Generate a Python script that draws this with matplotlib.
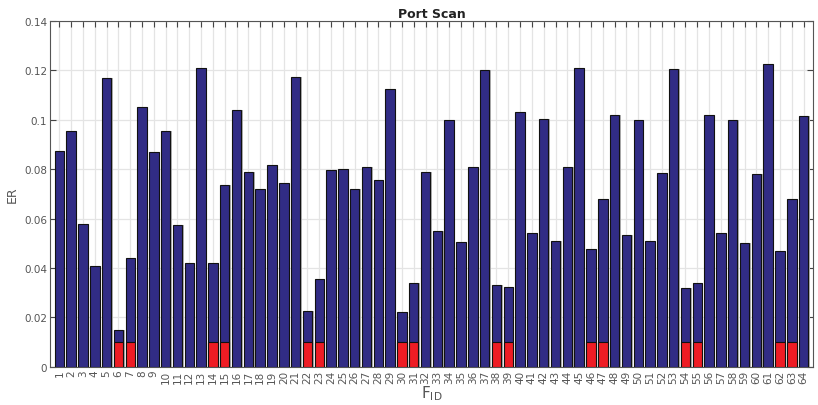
import numpy as np
import matplotlib
matplotlib.use('Agg')
import matplotlib.pyplot as plt

# Feature IDs and error rate per feature
FID = list(range(1, 65))
ER = [0.0875, 0.0955, 0.058, 0.041, 0.117, 0.015, 0.044, 0.105,
      0.087, 0.0955, 0.0575, 0.042, 0.121, 0.042, 0.0735, 0.104,
      0.079, 0.072, 0.0815, 0.0745, 0.1175, 0.0225, 0.0355, 0.0795,
      0.080, 0.072, 0.081, 0.0755, 0.1125, 0.022, 0.034, 0.079,
      0.055, 0.100, 0.0505, 0.081, 0.120, 0.033, 0.0325, 0.103,
      0.054, 0.1005, 0.051, 0.081, 0.121, 0.0475, 0.068, 0.102,
      0.0535, 0.100, 0.051, 0.0785, 0.1205, 0.032, 0.034, 0.102,
      0.054, 0.100, 0.050, 0.078, 0.1225, 0.047, 0.068, 0.1015]
# highlighted features (red marker segment)
SEL = [6, 7, 14, 15, 22, 23, 30, 31, 38, 39, 46, 47, 54, 55, 62, 63]
SEL_H = 0.01

BLUE = '#312c85'
RED = '#ee1c24'
GRAY = '#555555'

fig = plt.figure(figsize=(8.18, 4.06), dpi=100)
ax = fig.add_axes([0.061, 0.094, 0.933, 0.852])

x = np.array(FID)
er = np.array(ER)
w = 0.8
# light shadow on right side of each bar
ax.bar(x + 0.12, er, width=w, color='#b0b0b0', edgecolor='none', zorder=2)
ax.bar(x, er, width=w, color=BLUE, edgecolor='#111111', lw=0.8, zorder=3)
ax.bar(SEL, [SEL_H]*len(SEL), width=w, color=RED, edgecolor='#111111', lw=0.8, zorder=4)

ax.set_xlim(0.2, 64.8)
ax.set_ylim(0, 0.14)
ax.set_xticks(x)
ax.set_xticklabels([str(i) for i in FID], rotation=90, fontsize=7.5, color=GRAY)
ax.set_yticks(np.arange(0, 0.141, 0.02))
ax.set_yticklabels(['0', '0.02', '0.04', '0.06', '0.08', '0.1', '0.12', '0.14'],
                   fontsize=7.5, color=GRAY)
ax.tick_params(direction='in', top=True, right=True, length=4, width=0.8,
               color='#444444', pad=2)
ax.grid(True, color='#e4e4e4', lw=0.9, zorder=0)
ax.set_axisbelow(True)
for s in ax.spines.values():
    s.set_color('#555555')
    s.set_linewidth(0.8)

ax.set_xlabel('F$_{\\mathregular{ID}}$', fontsize=11, color=GRAY, labelpad=0)
ax.set_ylabel('ER', fontsize=9, color=GRAY, labelpad=4)
ax.set_title('Port Scan', fontsize=9, fontweight='bold', color='#222222', pad=3)

plt.savefig('out.png', dpi=100)
